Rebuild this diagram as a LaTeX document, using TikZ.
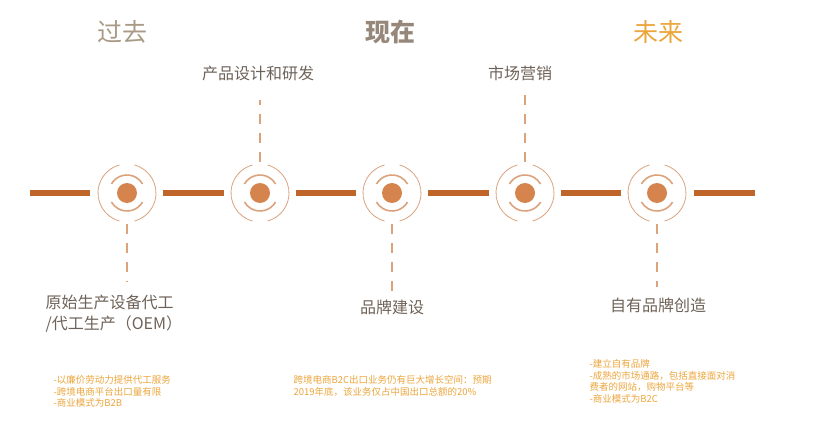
\documentclass[tikz,border=0pt]{standalone}
\usepackage{fontspec}
\newfontfamily\cjk{Noto Sans CJK SC}
\definecolor{bar}{HTML}{C0652A}
\definecolor{dot}{HTML}{D4844C}
\definecolor{ring}{HTML}{DBA27C}
\definecolor{lbl}{HTML}{6E6258}
\definecolor{org}{HTML}{EBA53C}
\definecolor{pastc}{HTML}{A89A85}
\definecolor{nowc}{HTML}{96877A}
\tikzset{
 barline/.style={bar,line width=5.5pt},
 dash line/.style={ring,line width=1.3pt,dash pattern=on 10pt off 9pt},
 ttl/.style={font=\cjk\fontsize{25}{27}\selectfont},
 lab/.style={font=\cjk\fontsize{16}{21}\selectfont,text=lbl},
 note/.style={font=\cjk\fontsize{9.5}{11.5}\selectfont,text=org,align=left,anchor=north west}
}
\newcommand\stage[2]{%
 \node[circle,fill=dot,minimum size=20pt,inner sep=0pt] (#1) at (#2,193) {};
 \draw[ring,line width=1.6pt] ($(#1)+(30:18)$) arc (30:150:18);
 \draw[ring,line width=1.6pt] ($(#1)+(210:18)$) arc (210:330:18);
 \draw[ring,line width=0.8pt] ($(#1)+(105:29)$) arc (105:255:29);
 \draw[ring,line width=0.8pt] ($(#1)+(-75:29)$) arc (-75:75:29);
}
\usetikzlibrary{calc}
\begin{document}
\begin{tikzpicture}[x=1pt,y=-1pt]
\useasboundingbox (0,0) rectangle (824,425);
\stage{a}{127}\stage{b}{260}\stage{c}{392}\stage{d}{525}\stage{e}{657}
\coordinate (s) at (30,193); \coordinate (t) at (755,193);
\draw[barline] (s) -- ++(60,0);
\draw[barline] ($(a)+(36,0)$) -- ($(b)+(-36,0)$);
\draw[barline] ($(b)+(36,0)$) -- ($(c)+(-36,0)$);
\draw[barline] ($(c)+(36,0)$) -- ($(d)+(-36,0)$);
\draw[barline] ($(d)+(36,0)$) -- ($(e)+(-36,0)$);
\draw[barline] ($(e)+(37,0)$) -- (t);
\node[ttl,text=pastc] (t1) at (122,32) {过去};
\node[ttl,text=nowc] (t2) at (390,32) {\textbf{现在}};
\node[ttl,text=org] (t3) at (658,32) {未来};
\node[lab] (lb) at (258,73) {产品设计和研发};
\node[lab] (ld) at (520,73) {市场营销};
\node[lab,align=left,anchor=west] (la) at (42,314) {原始生产设备代工\\/代工生产（OEM）};
\node[lab] (lc) at (392,307) {品牌建设};
\node[lab] (le) at (658,305) {自有品牌创造};
\draw[dash line] ($(a)+(0,31)$) -- (127,282);
\draw[dash line] ($(b)+(0,-31)$) -- (260,100);
\draw[dash line] ($(c)+(0,31)$) -- (392,292);
\draw[dash line] ($(d)+(0,-31)$) -- (525,88);
\draw[dash line] ($(e)+(0,31)$) -- (657,287);
\node[note] at (50,372) {-以廉价劳动力提供代工服务\\-跨境电商平台出口量有限\\-商业模式为B2B};
\node[note] at (290,372) {跨境电商B2C出口业务仍有巨大增长空间：预期\\2019年底，该业务仅占中国出口总额的20\%};
\node[note] at (586,356) {-建立自有品牌\\-成熟的市场通路，包括直接面对消\\费者的网站，购物平台等\\-商业模式为B2C};
\end{tikzpicture}
\end{document}
